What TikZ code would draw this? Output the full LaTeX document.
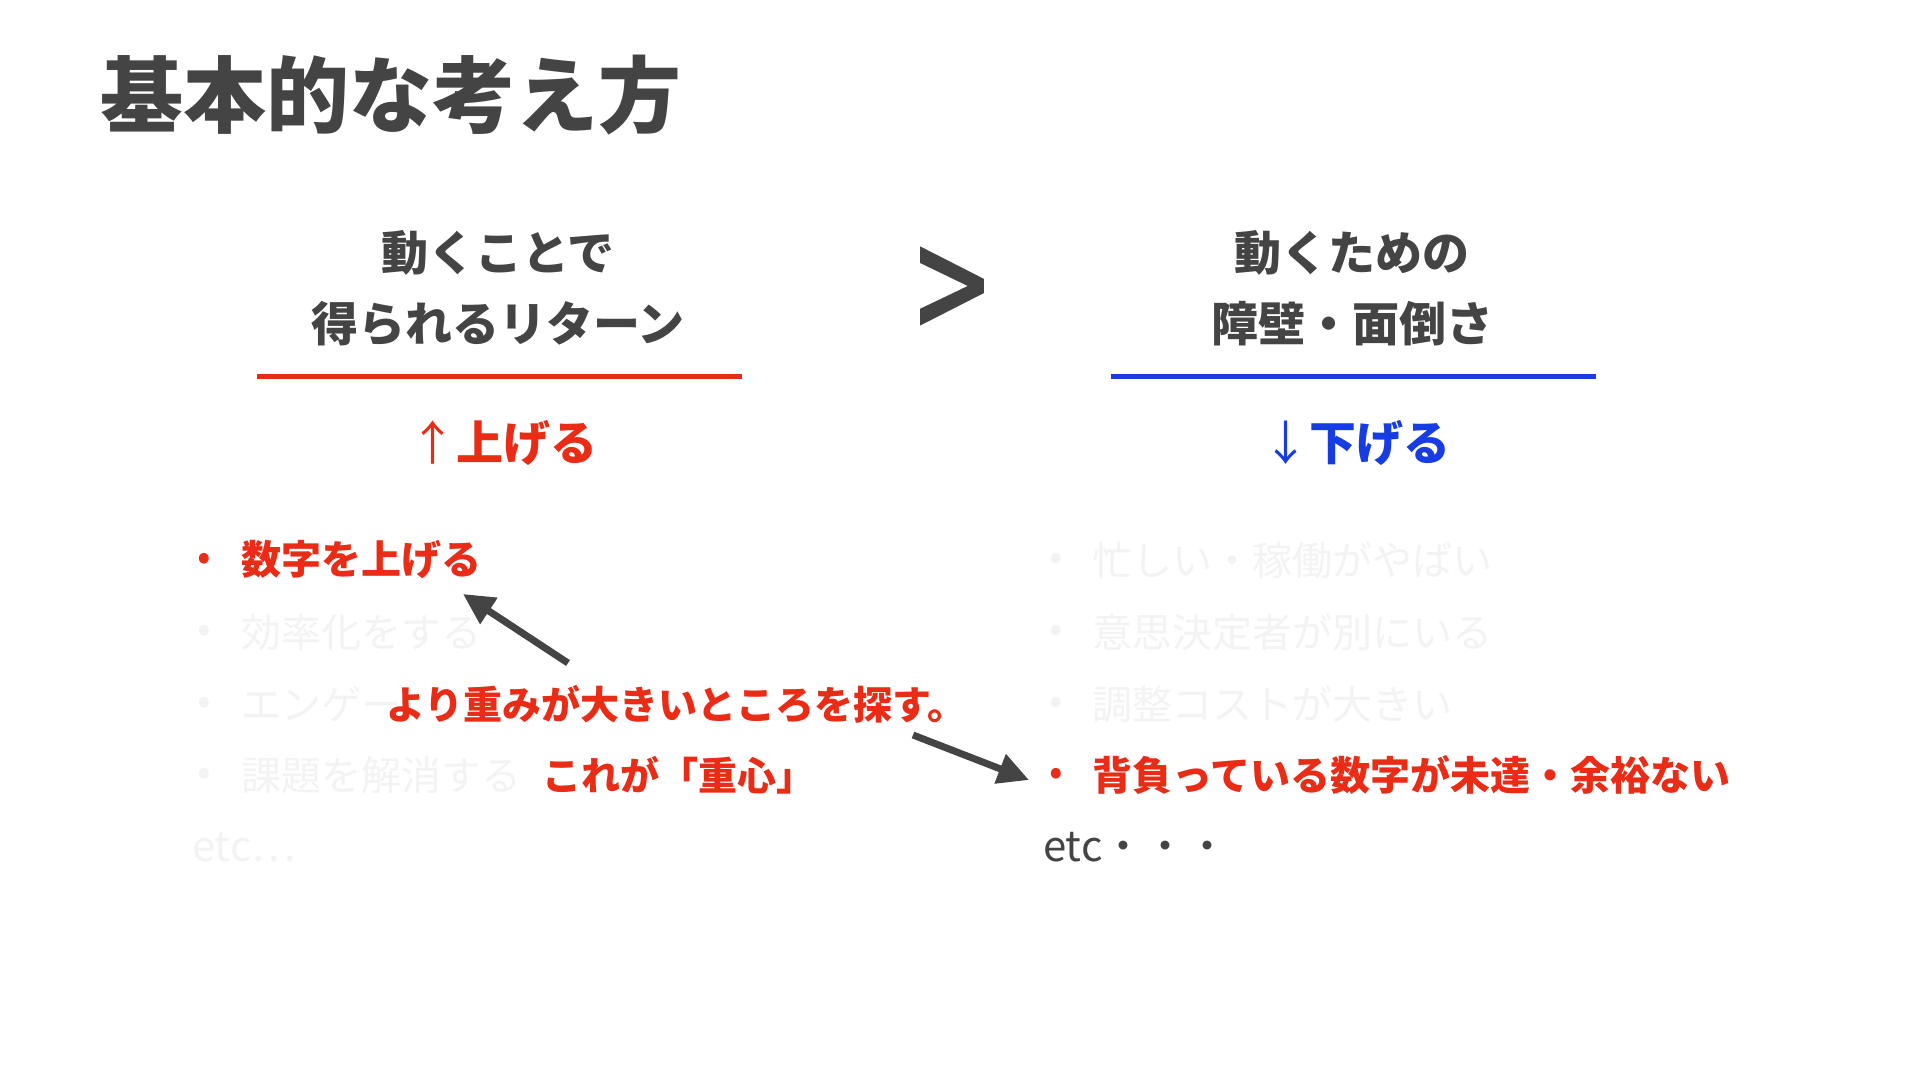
\documentclass[tikz,border=0pt]{standalone}
\usepackage{fontspec}
\setmainfont{Noto Sans CJK JP}
\newfontfamily\gtfont[FakeBold=2]{Noto Sans CJK JP}
\usetikzlibrary{arrows.meta}
\definecolor{dg}{RGB}{68,68,68}
\definecolor{rd}{RGB}{234,44,22}
\definecolor{bl}{RGB}{24,60,228}
\definecolor{fd}{RGB}{243,243,243}
\tikzset{
  base/.style={inner sep=0pt, outer sep=0pt},
  titletxt/.style={base, anchor=west, text=dg, font=\fontsize{83}{90}\selectfont\bfseries},
  head/.style={base, text=dg, font=\fontsize{47}{52}\selectfont\bfseries},
  updown/.style={base, font=\fontsize{47}{52}\selectfont\bfseries},
  item/.style={base, anchor=west, font=\fontsize{40}{46}\selectfont},
  bul/.style={base, font=\fontsize{40}{46}\selectfont},
  faded/.style={text=fd},
  hot/.style={text=rd, font=\fontsize{40}{46}\selectfont\bfseries},
  callout/.style={base, anchor=west, text=rd, font=\fontsize{39}{46}\selectfont\bfseries},
  conn/.style={draw=dg, line width=7pt, -{Triangle[length=31pt,width=30pt]}},
  rule/.style={line width=5pt}
}
\begin{document}
\begin{tikzpicture}[x=1pt,y=-1pt]
\useasboundingbox (0,0) rectangle (1920,1080);
\fill[white] (0,0) rectangle (1920,1080);

% title
\node[titletxt] (title) at (100,95) {基本的な考え方};

% left heading
\node[head] (lh1) at (498,253) {動くことで};
\node[head] (lh2) at (498,324) {得られるリターン};
\draw[rd, rule] (257,376) -- (742,376);
\node[updown, text=rd] (lup) at (503,443) {{\mdseries ↑}上げる};

% greater-than sign
\node[base, text=dg, font=\fontsize{150}{160}\gtfont, xscale=0.85, yscale=1.1] (gt) at (952,298) {>};

% right heading
\node[head] (rh1) at (1352,253) {動くための};
\node[head] (rh2) at (1352,324) {障壁・面倒さ};
\draw[bl, rule] (1111,376) -- (1596,376);
\node[updown, text=bl] (rdown) at (1356,443) {{\mdseries ↓}下げる};

% left list
\node[bul, text=rd] (lb1) at (204,562) {•};
\node[item, hot] (li1) at (241,560) {数字を上げる};
\node[bul, faded] (lb2) at (204,634) {•};
\node[item, faded] (li2) at (241,632) {効率化をする};
\node[bul, faded] (lb3) at (204,706) {•};
\node[item, faded] (li3) at (241,704) {エンゲー};
\node[bul, faded] (lb4) at (204,777) {•};
\node[item, faded] (li4) at (241,775) {課題を解消する};
\node[item, faded, font=\fontsize{42}{46}\selectfont] (letc) at (192,847) {etc…};

% right list
\node[bul, faded] (rb1) at (1056,562) {•};
\node[item, faded] (ri1) at (1092,560) {忙しい・稼働がやばい};
\node[bul, faded] (rb2) at (1056,634) {•};
\node[item, faded] (ri2) at (1092,632) {意思決定者が別にいる};
\node[bul, faded] (rb3) at (1056,706) {•};
\node[item, faded] (ri3) at (1092,704) {調整コストが大きい};
\node[bul, text=rd] (rb4) at (1056,777) {•};
\node[item, hot] (ri4) at (1092,775) {背負っている数字が未達・余裕ない};
\node[item, text=dg, font=\fontsize{42}{46}\selectfont] (retc) at (1043,847) {etc・・・};

% callout
\node[callout] (c1) at (386,704) {より重みが大きいところを探す。};
\node[callout] (c2) at (542,775) {これが「重心」};

% arrows
\coordinate (a1s) at (568,663);
\coordinate (a1e) at (463,594);
\draw[conn] (a1s) -- (a1e);
\coordinate (a2s) at (913,735);
\coordinate (a2e) at (1029,780);
\draw[conn] (a2s) -- (a2e);
\end{tikzpicture}
\end{document}
